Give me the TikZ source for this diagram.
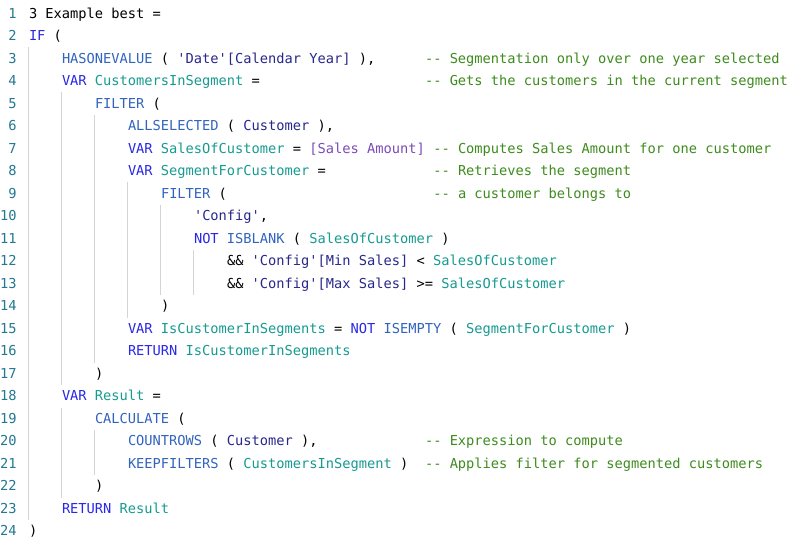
\documentclass[tikz,border=0pt]{standalone}
\usepackage{fontspec}
\setmonofont{DejaVu Sans Mono}
\definecolor{kwc}{RGB}{40,40,232}
\definecolor{fnc}{RGB}{50,100,190}
\definecolor{vrc}{RGB}{22,155,145}
\definecolor{tbc}{RGB}{40,40,140}
\definecolor{msc}{RGB}{125,75,185}
\definecolor{cmc}{RGB}{62,140,30}
\definecolor{lnc}{RGB}{35,120,147}
\definecolor{guidec}{RGB}{212,212,212}
\newcommand\kw[1]{\textcolor{kwc}{#1}}
\newcommand\fnn[1]{\textcolor{fnc}{#1}}
\newcommand\vr[1]{\textcolor{vrc}{#1}}
\newcommand\tbl[1]{\textcolor{tbc}{#1}}
\newcommand\msr[1]{\textcolor{msc}{#1}}
\newcommand\cmt[1]{\textcolor{cmc}{-{}- #1}}
\newcommand\q{\textquotesingle}
\tikzset{
  code/.style={anchor=base west,inner sep=0pt,outer sep=0pt,font=\ttfamily\fontsize{13.7}{16}\selectfont,text=black},
  lnum/.style={anchor=base east,inner sep=0pt,outer sep=0pt,font=\ttfamily\fontsize{13.7}{16}\selectfont,text=lnc},
  guide/.style={draw=guidec,line width=0.9pt}
}
\newcommand\codeline[3]{\node[code] (l#1c#2) at ({29+8.25*#2},{18.3+22.5*(#1-1)}) {#3};}
\newcommand\guide[3]{\draw[guide] ({28.7+33*#1},{2.5+22.5*(#2-1)}) -- ({28.7+33*#1},{2.5+22.5*#3});}
\begin{document}
\begin{tikzpicture}[x=1pt,y=-1pt]
\useasboundingbox[fill=white] (0,0) rectangle (791,545);
% indent guides
\guide{0}{3}{23}
\guide{1}{5}{17}
\guide{1}{19}{22}
\guide{2}{6}{16}
\guide{2}{20}{21}
\guide{3}{9}{14}
\guide{4}{10}{13}
\guide{5}{12}{13}
% line numbers
\foreach \n in {1,...,24} \node[lnum] (n\n) at (16.5,{18.3+22.5*(\n-1)}) {\n};
% code
\codeline{1}{0}{3 Example best =}
\codeline{2}{0}{\kw{IF} (}
\codeline{3}{4}{\fnn{HASONEVALUE} ( \tbl{\q Date\q[Calendar Year]} ),}
\codeline{3}{48}{\cmt{Segmentation only over one year selected}}
\codeline{4}{4}{\kw{VAR} \vr{CustomersInSegment} =}
\codeline{4}{48}{\cmt{Gets the customers in the current segment}}
\codeline{5}{8}{\fnn{FILTER} (}
\codeline{6}{12}{\fnn{ALLSELECTED} ( \tbl{Customer} ),}
\codeline{7}{12}{\kw{VAR} \vr{SalesOfCustomer} = \msr{[Sales Amount]}}
\codeline{7}{49}{\cmt{Computes Sales Amount for one customer}}
\codeline{8}{12}{\kw{VAR} \vr{SegmentForCustomer} =}
\codeline{8}{49}{\cmt{Retrieves the segment}}
\codeline{9}{16}{\fnn{FILTER} (}
\codeline{9}{49}{\cmt{a customer belongs to}}
\codeline{10}{20}{\tbl{\q Config\q},}
\codeline{11}{20}{\kw{NOT} \fnn{ISBLANK} ( \vr{SalesOfCustomer} )}
\codeline{12}{24}{\&\& \tbl{\q Config\q[Min Sales]} < \vr{SalesOfCustomer}}
\codeline{13}{24}{\&\& \tbl{\q Config\q[Max Sales]} >= \vr{SalesOfCustomer}}
\codeline{14}{16}{)}
\codeline{15}{12}{\kw{VAR} \vr{IsCustomerInSegments} = \kw{NOT} \fnn{ISEMPTY} ( \vr{SegmentForCustomer} )}
\codeline{16}{12}{\kw{RETURN} \vr{IsCustomerInSegments}}
\codeline{17}{8}{)}
\codeline{18}{4}{\kw{VAR} \vr{Result} =}
\codeline{19}{8}{\fnn{CALCULATE} (}
\codeline{20}{12}{\fnn{COUNTROWS} ( \tbl{Customer} ),}
\codeline{20}{48}{\cmt{Expression to compute}}
\codeline{21}{12}{\fnn{KEEPFILTERS} ( \vr{CustomersInSegment} )}
\codeline{21}{48}{\cmt{Applies filter for segmented customers}}
\codeline{22}{8}{)}
\codeline{23}{4}{\kw{RETURN} \vr{Result}}
\codeline{24}{0}{)}
\end{tikzpicture}
\end{document}
